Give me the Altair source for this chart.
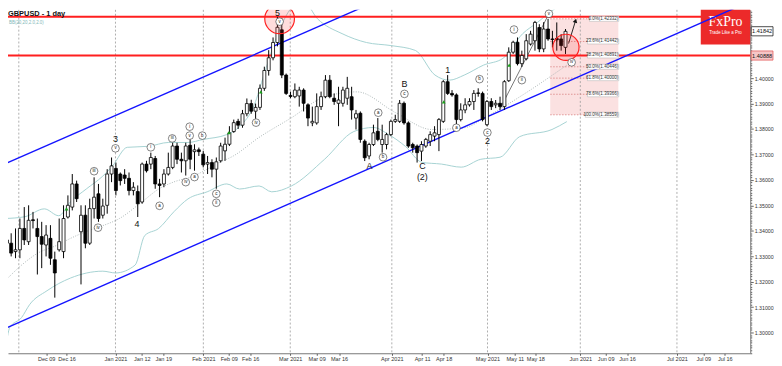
import altair as alt
import pandas as pd

# ---------------- candles (bar index 0..128) ----------------
opens = [1.3364,1.3351,1.3318,1.3325,1.3409,1.3357,1.3443,1.3409,1.3377,1.3344,
         1.3370,1.3286,1.3325,1.3318,1.3454,1.3493,1.3584,1.3396,1.3461,1.3351,
         1.3487,1.3545,1.3461,1.3500,1.3623,1.3645,1.3623,1.3619,1.3606,1.3558,
         1.3554,1.3513,1.3662,1.3662,1.3684,1.3584,1.3584,1.3623,1.3649,1.3733,
         1.3681,1.3675,1.3736,1.3711,1.3718,1.3701,1.3662,1.3668,1.3642,1.3675,
         1.3714,1.3740,1.3790,1.3830,1.3815,1.3860,1.3900,1.3870,1.3885,1.3960,
         1.4030,1.4080,1.4140,1.4190,1.4012,1.3932,1.3927,1.3930,1.3953,1.3895,
         1.3824,1.3824,1.3888,1.3927,1.3992,1.3921,1.3901,1.3901,1.3921,1.3927,
         1.3843,1.3862,1.3752,1.3694,1.3739,1.3791,1.3739,1.3739,1.3778,1.3830,
         1.3830,1.3901,1.3824,1.3739,1.3733,1.3713,1.3733,1.3752,1.3772,1.3778,
         1.3830,1.3986,1.3940,1.3934,1.3837,1.3875,1.3895,1.3908,1.3942,1.3940,
         1.3817,1.3908,1.3895,1.3901,1.3888,1.3990,1.4102,1.4141,1.4057,1.4076,
         1.4134,1.4147,1.4199,1.4115,1.4193,1.4154,1.4156,1.4154,1.4121]
highs = [1.3396,1.3390,1.3409,1.3448,1.3493,1.3500,1.3474,1.3448,1.3435,1.3422,
         1.3422,1.3318,1.3448,1.3500,1.3539,1.3623,1.3597,1.3500,1.3500,1.3526,
         1.3610,1.3584,1.3526,1.3642,1.3688,1.3668,1.3629,1.3642,1.3629,1.3591,
         1.3578,1.3668,1.3675,1.3707,1.3694,1.3604,1.3642,1.3707,1.3746,1.3746,
         1.3707,1.3746,1.3759,1.3740,1.3727,1.3714,1.3694,1.3681,1.3688,1.3746,
         1.3766,1.3811,1.3837,1.3840,1.3875,1.3920,1.3915,1.3900,1.3975,1.4045,
         1.4110,1.4160,1.4241,1.4235,1.4018,1.3947,1.3979,1.3966,1.3960,1.3901,
         1.3888,1.3940,1.3947,1.4012,1.4012,1.3940,1.3966,1.3966,1.4005,1.3966,
         1.3875,1.3869,1.3759,1.3746,1.3817,1.3843,1.3817,1.3785,1.3837,1.3856,
         1.3914,1.3908,1.3830,1.3746,1.3739,1.3752,1.3765,1.3791,1.3811,1.3843,
         1.3992,1.4012,1.3953,1.3940,1.3901,1.3921,1.3921,1.3953,1.3960,1.3947,
         1.3914,1.3921,1.3914,1.3927,1.3992,1.4121,1.4147,1.4160,1.4108,1.4173,
         1.4186,1.4225,1.4212,1.4220,1.4233,1.4186,1.4219,1.4173,1.4193]
lows = [1.3325,1.3299,1.3292,1.3292,1.3344,1.3344,1.3409,1.3228,1.3253,1.3299,
        1.3266,1.3137,1.3318,1.3292,1.3448,1.3480,1.3513,1.3189,1.3331,1.3344,
        1.3448,1.3435,1.3448,1.3467,1.3591,1.3539,1.3578,1.3584,1.3539,1.3539,
        1.3454,1.3506,1.3629,1.3642,1.3565,1.3532,1.3571,1.3617,1.3642,1.3662,
        1.3629,1.3617,1.3642,1.3636,1.3694,1.3649,1.3623,1.3610,1.3565,1.3668,
        1.3675,1.3733,1.3785,1.3800,1.3805,1.3850,1.3860,1.3840,1.3875,1.3950,
        1.4010,1.4070,1.4125,1.4000,1.3934,1.3921,1.3921,1.3888,1.3869,1.3811,
        1.3811,1.3817,1.3875,1.3921,1.3921,1.3895,1.3811,1.3888,1.3895,1.3837,
        1.3798,1.3746,1.3674,1.3681,1.3733,1.3752,1.3707,1.3720,1.3772,1.3824,
        1.3824,1.3817,1.3726,1.3707,1.3668,1.3674,1.3726,1.3733,1.3752,1.3713,
        1.3824,1.3934,1.3927,1.3817,1.3830,1.3862,1.3888,1.3875,1.3927,1.3830,
        1.3811,1.3875,1.3882,1.3875,1.3875,1.3985,1.4095,1.4050,1.4044,1.4070,
        1.4128,1.4108,1.4102,1.4102,1.4147,1.4121,1.4108,1.4108,1.4095]
closes = [1.3351,1.3312,1.3325,1.3409,1.3364,1.3441,1.3440,1.3377,1.3347,1.3383,
          1.3292,1.3234,1.3357,1.3448,1.3500,1.3584,1.3526,1.3461,1.3351,1.3487,
          1.3532,1.3448,1.3497,1.3623,1.3655,1.3558,1.3597,1.3606,1.3558,1.3571,
          1.3506,1.3662,1.3636,1.3688,1.3584,1.3578,1.3623,1.3649,1.3733,1.3681,
          1.3675,1.3733,1.3681,1.3718,1.3711,1.3659,1.3668,1.3642,1.3671,1.3733,
          1.3740,1.3785,1.3825,1.3815,1.3860,1.3900,1.3870,1.3885,1.3960,1.4030,
          1.4080,1.4140,1.4200,1.4012,1.3940,1.3928,1.3953,1.3953,1.3901,1.3843,
          1.3830,1.3888,1.3927,1.3992,1.3927,1.3908,1.3914,1.3953,1.3960,1.3875,
          1.3860,1.3759,1.3687,1.3739,1.3785,1.3759,1.3759,1.3778,1.3830,1.3837,
          1.3901,1.3824,1.3733,1.3726,1.3707,1.3739,1.3759,1.3778,1.3785,1.3837,
          1.3986,1.3940,1.3934,1.3837,1.3875,1.3895,1.3908,1.3940,1.3940,1.3837,
          1.3908,1.3888,1.3901,1.3888,1.3986,1.4102,1.4141,1.4057,1.4089,1.4147,
          1.4173,1.4219,1.4115,1.4193,1.4154,1.4152,1.4150,1.4128,1.4184]

# ---------------- Bollinger bands (read at sample bars) ----------------
bb_up_x = [-0.4,4.1,8.6,11.9,14.6,18.2,22.0,24.2,27.6,32.5,37.0,41.5,45.0,50.4,53.3,56.7,
           58.9,61.1,63.4,65.6,67.9,71.2,76.8,82.4,88.0,93.6,98.1,101.4,104.8,109.2,113.7,
           118.2,121.5,124.9,128.3]
bb_up_y = [1.3448,1.3455,1.3486,1.3459,1.3514,1.3564,1.3615,1.3654,1.3728,1.3732,1.3747,
           1.3747,1.3759,1.3778,1.3809,1.3895,1.4012,1.4128,1.4226,1.4284,1.4303,1.4233,
           1.4175,1.4140,1.4128,1.4109,1.4012,1.3992,1.4012,1.4051,1.4078,1.4175,1.4218,
           1.4265,1.4296]
bb_mid_x = [-0.4,3.4,7.0,11.5,14.6,18.2,22.0,25.8,31.0,34.8,38.3,42.8,45.9,48.8,51.8,57.8,
            65.2,72.8,80.2,89.1,97.4,104.8,109.9,118.2,128.3]
bb_mid_y = [1.3203,1.3265,1.3311,1.3343,1.3370,1.3397,1.3420,1.3448,1.3514,1.3564,1.3592,
            1.3615,1.3642,1.3669,1.3693,1.3767,1.3844,1.3926,1.3946,1.3864,1.3798,1.3805,
            1.3848,1.3934,1.4051]
bb_lo_x = [-0.4,0.7,3.4,5.2,9.2,14.6,22.0,24.9,29.4,31.6,34.8,38.3,41.5,45.9,50.4,53.3,57.8,
           60.7,65.2,72.8,79.5,84.0,87.5,91.3,95.1,99.6,104.1,108.6,113.0,117.5,124.9,128.3]
bb_lo_y = [1.2922,1.3020,1.3059,1.3109,1.3164,1.3214,1.3241,1.3234,1.3265,1.3381,1.3409,
           1.3475,1.3525,1.3553,1.3584,1.3564,1.3576,1.3553,1.3576,1.3681,1.3790,1.3806,
           1.3778,1.3732,1.3669,1.3662,1.3650,1.3681,1.3689,1.3770,1.3798,1.3829]

# ---------------- axes ----------------
tick_pos = [9.02,13.71,24.90,30.94,35.86,45.03,50.85,55.77,64.94,70.99,76.13,88.21,95.14,
            100.07,110.13,116.39,121.09,131.39,137.20,142.12,153.53,159.57,164.49]
tick_labels = ["Dec 09","Dec 16","Jan 2021","Jan 12","Jan 19","Feb 2021","Feb 09","Feb 16",
               "Mar 2021","Mar 09","Mar 16","Apr 2021","Apr 11","Apr 18","May 2021","May 11",
               "May 18","Jun 2021","Jun 09","Jun 16","Jul 2021","Jul 09","Jul 16"]
month_starts = [2.75,24.90,45.03,64.94,88.21,110.13,131.39,153.53]
price_ticks = [round(1.292 + 0.001 * k, 3) for k in range(135)]

# ---------------- annotations ----------------
red_levels = [1.4241, 1.40888]
fib_levels = [1.42332,1.41442,1.40891,1.40446,1.40000,1.39366,1.38559]
fib_names = ["0.0%(1.42332)","23.6%(1.41442)","38.2%(1.40891)","50.0%(1.40446)",
             "61.8%(1.40000)","78.6%(1.39366)","100.0%(1.38559)"]
fib_x0, fib_x1 = 124.5, 140.1

chan_line = ["up","up","lo","lo"]
chan_x = [-0.38, 84.8, -0.38, 170.0]
chan_y = [1.36630, 1.43035, 1.30160, 1.42996]

circle_x = [62.5, 128.1]
circle_y = [1.4233, 1.4121]
circle_size = [900, 700]

main_text = ["3","4","5","A","B","C","(2)","1","2"]
main_x = [24.9,29.8,62.0,83.1,91.1,95.2,95.2,101.0,110.1]
main_y = [1.3759,1.3428,1.4255,1.3654,1.3977,1.3654,1.3611,1.4031,1.3751]

circ_text = ["v","iii","iv","i","a","iii","iv","v","i","a","b","c","ii","iv","v",
             "a","b","c","a","b","c","ii","i","v","iv"]
circ_x = [24.9,20.0,20.9,33.0,35.0,37.9,41.0,41.9,41.9,43.0,44.8,48.0,48.0,57.1,62.5,
          85.1,86.2,91.1,103.0,108.3,110.1,118.0,116.2,124.2,129.4]
circ_y = [1.3724,1.3634,1.3412,1.3728,1.3498,1.3763,1.3591,1.3774,1.3809,1.3611,1.3774,
          1.3545,1.3510,1.3825,1.4222,1.3864,1.3689,1.3938,1.3805,1.3996,1.3786,1.3992,
          1.4191,1.4253,1.4062]

green_x = [13.7, 50.9, 58.2, 100.1, 115.1]
green_y = [1.3486, 1.3786, 1.3946, 1.3907, 1.4051]

wave_x = [113.1, 124.2]
wave_y = [1.3883, 1.4253]
arrow_x = [128.7, 130.3]
arrow_y = [1.4136, 1.4226]

# ---------------- frames ----------------
candles = pd.DataFrame({"idx": range(len(opens)), "open": opens, "high": highs,
                        "low": lows, "close": closes})
candles["fill"] = ["#ffffff" if c >= o else "#000000" for o, c in zip(opens, closes)]

bands = pd.concat([
    pd.DataFrame({"idx": bb_up_x, "p": bb_up_y, "band": "up"}),
    pd.DataFrame({"idx": bb_lo_x, "p": bb_lo_y, "band": "lo"}),
])
mid = pd.DataFrame({"idx": bb_mid_x, "p": bb_mid_y})
months = pd.DataFrame({"idx": month_starts})
chan = pd.DataFrame({"idx": chan_x, "p": chan_y, "line": chan_line})
reds = pd.DataFrame({"p": red_levels})
fib = pd.DataFrame({"p": fib_levels, "name": fib_names, "x0": fib_x0, "x1": fib_x1})
fib["bx0"] = [fib_x1 + 0.1 - (len(n) * 2.15 + 2) / 4.47 for n in fib_names]
fib["bx1"] = fib_x1 + 0.1
fib["pt"] = fib["p"] + 0.0010
fib["pb"] = fib["p"] - 0.0010
fibbox = pd.DataFrame({"x0": [fib_x0], "x1": [fib_x1], "y0": [fib_levels[0]], "y1": [fib_levels[-1]]})
circles = pd.DataFrame({"idx": circle_x, "p": circle_y, "s": circle_size})
mains = pd.DataFrame({"idx": main_x, "p": main_y, "t": main_text})
circs = pd.DataFrame({"idx": circ_x, "p": circ_y, "t": circ_text})
greens = pd.DataFrame({"idx": green_x, "p": green_y})
wave = pd.DataFrame({"idx": wave_x, "p": wave_y})
arrow = pd.DataFrame({"idx": arrow_x, "p": arrow_y})
arrowhead = pd.DataFrame({"idx": arrow_x[-1:], "p": arrow_y[-1:]})
pricebox = pd.DataFrame({"p": [1.41842, 1.40888], "t": ["1.41842", "1.40888"],
                         "f": ["#ffffff", "#f5c6c6"], "s": ["#000000", "#e05050"]})
pricebox["pt"] = pricebox["p"] + 0.0018
pricebox["pb"] = pricebox["p"] - 0.0018

# ---------------- scales / encodings ----------------
W, H = 750, 347
xscale = alt.Scale(domain=[1.409, 169.19], nice=False, zero=False)
yscale = alt.Scale(domain=[1.291829, 1.426848], nice=False, zero=False)

xlabel_expr = ("[" + ",".join("'%s'" % t for t in tick_labels) + "][indexof([" +
               ",".join(str(v) for v in tick_pos) + "], datum.value)]")
major_test = "abs(datum.value*100 - round(datum.value*100)) < 0.01"
xaxis = alt.Axis(values=tick_pos, labelExpr=xlabel_expr, grid=False, tickSize=2,
                 tickColor="#555555", domainColor="#777777", labelFontSize=5.6,
                 labelFont="Liberation Sans", labelColor="#333333", labelPadding=1,
                 labelFlush=False, labelOverlap=False, title=None)
yaxis = alt.Axis(orient="right", values=price_ticks,
                 labelExpr="(" + major_test + ") && datum.value < 1.405 ? format(datum.value, '.5f') : ''",
                 tickSize={"condition": {"test": major_test, "value": 3}, "value": 1.5},
                 grid=False, tickColor="#666666", domainColor="#777777", labelFontSize=5.3,
                 labelFont="Liberation Sans", labelColor="#333333", labelPadding=1,
                 labelOverlap=False, labelFlush=False, title=None)


def X(f):
    return alt.X(f, type="quantitative", scale=xscale, axis=xaxis)


def Y(f):
    return alt.Y(f, type="quantitative", scale=yscale, axis=yaxis)


layers = []

# fib box
layers.append(alt.Chart(fibbox).mark_rect(color="#fbe1e1").encode(
    x=X("x0"), x2="x1", y=Y("y0"), y2="y1"))
# month gridlines
layers.append(alt.Chart(months).mark_rule(strokeDash=[2, 2], color="#9a9a9a",
                                          strokeWidth=0.8).encode(x=X("idx")))
# fib dotted lines
layers.append(alt.Chart(fib).mark_rule(strokeDash=[1.5, 1.5], color="#d98080",
                                       strokeWidth=0.8).encode(
    x=X("x0"), x2="x1", y=Y("p")))
# Bollinger bands
layers.append(alt.Chart(bands).mark_line(color="#a6d2d2", strokeWidth=1, clip=True,
                                         interpolate="monotone").encode(
    x=X("idx"), y=Y("p"), detail="band:N"))
layers.append(alt.Chart(mid).mark_line(color="#9aa6a6", strokeWidth=0.8, strokeDash=[1, 1.5],
                                       clip=True, interpolate="monotone").encode(
    x=X("idx"), y=Y("p")))
# red horizontal levels
layers.append(alt.Chart(reds).mark_rule(color="#ff1f1f", strokeWidth=2).encode(y=Y("p")))
# FxPro logo
layers.append(alt.Chart(reds.head(1)).mark_rect(color="#ec2a2a").encode(
    x=alt.value(700), x2=alt.value(750), y=alt.value(0), y2=alt.value(35)))
layers.append(alt.Chart(reds.head(1)).mark_text(
    text="FxPro", color="white", font="Liberation Serif", fontSize=14,
    align="center", baseline="middle").encode(x=alt.value(725), y=alt.value(12)))
layers.append(alt.Chart(reds.head(1)).mark_text(
    text="Trade Like a Pro", color="white", font="Liberation Sans", fontSize=4.5,
    align="center", baseline="middle").encode(x=alt.value(725), y=alt.value(23)))
# channel lines
layers.append(alt.Chart(chan).mark_line(color="#1414ff", strokeWidth=1.4, clip=True).encode(
    x=X("idx"), y=Y("p"), detail="line:N"))
# wave line and arrow
layers.append(alt.Chart(wave).mark_line(color="#555555", strokeWidth=0.8).encode(
    x=X("idx"), y=Y("p")))
layers.append(alt.Chart(arrow).mark_line(color="#111111", strokeWidth=0.9).encode(
    x=X("idx"), y=Y("p")))
layers.append(alt.Chart(arrowhead).mark_point(shape="triangle-up", size=22, filled=True,
                                              color="#111111", opacity=1, angle=17).encode(
    x=X("idx"), y=Y("p")))
# candles
layers.append(alt.Chart(candles).mark_rule(color="#000000", strokeWidth=1, clip=True).encode(
    x=X("idx"), y=Y("low"), y2="high"))
layers.append(alt.Chart(candles).mark_bar(size=3, stroke="#000000", strokeWidth=0.8,
                                          clip=True).encode(
    x=X("idx"), y=Y("open"), y2="close", color=alt.Color("fill:N", scale=None)))
# green arrows
layers.append(alt.Chart(greens).mark_point(shape="triangle-up", size=14, filled=True,
                                           color="#1aa01a", opacity=1).encode(
    x=X("idx"), y=Y("p")))
# red circles
layers.append(alt.Chart(circles).mark_point(shape="circle", fill="#ff3030", fillOpacity=0.17,
                                            stroke="#ff2020", strokeWidth=1.2,
                                            opacity=1, clip=True).encode(
    x=X("idx"), y=Y("p"), size=alt.Size("s:Q", scale=None)))
# wave labels
layers.append(alt.Chart(mains).mark_text(fontSize=9, font="Liberation Sans", color="#111111",
                                         baseline="middle", align="center").encode(
    x=X("idx"), y=Y("p"), text="t:N"))
layers.append(alt.Chart(circs).mark_point(shape="circle", size=60, filled=True, fill="white",
                                          stroke="#333333", strokeWidth=0.6,
                                          opacity=1).encode(x=X("idx"), y=Y("p")))
layers.append(alt.Chart(circs).mark_text(fontSize=4.5, font="Liberation Sans", color="#111111",
                                         baseline="middle", align="center").encode(
    x=X("idx"), y=Y("p"), text="t:N"))
# fib labels
layers.append(alt.Chart(fib).mark_rect(fill="#ffffff", stroke="#b0b0b0",
                                       strokeWidth=0.5).encode(
    x=X("bx0"), x2="bx1", y=Y("pt"), y2="pb"))
layers.append(alt.Chart(fib).mark_text(fontSize=4.6, font="Liberation Sans", color="#333333",
                                       align="right", baseline="middle").encode(
    x=X("x1"), y=Y("p"), text="name:N"))
# price boxes on the axis
layers.append(alt.Chart(pricebox).mark_rect(strokeWidth=0.7).encode(
    x=alt.value(751), x2=alt.value(773), y=Y("pt"), y2="pb",
    fill=alt.Fill("f:N", scale=None), stroke=alt.Stroke("s:N", scale=None)))
layers.append(alt.Chart(pricebox).mark_text(fontSize=5.6, font="Liberation Sans",
                                            color="#111111", align="center",
                                            baseline="middle").encode(
    x=alt.value(762), y=Y("p"), text="t:N"))
# title and indicator caption
layers.append(alt.Chart(reds.head(1)).mark_text(
    text="GBPUSD - 1 day", fontSize=7.5, fontWeight="bold", font="Liberation Sans",
    color="#111111", align="left", baseline="top").encode(x=alt.value(0), y=alt.value(0)))
layers.append(alt.Chart(reds.head(1)).mark_text(
    text="BB(20,20,2.0,2.0)", fontSize=4.5, font="Liberation Sans",
    color="#7fb8b8", align="left", baseline="top").encode(x=alt.value(1), y=alt.value(10)))

chart = alt.layer(*layers).properties(
    width=W, height=H,
    autosize=alt.AutoSizeParams(type="none"),
    padding={"left": 0, "top": 0, "right": 24, "bottom": 10},
    background="white"
).configure_view(stroke=None)

chart.save("out.html", embed_options={"renderer": "svg", "actions": False})
